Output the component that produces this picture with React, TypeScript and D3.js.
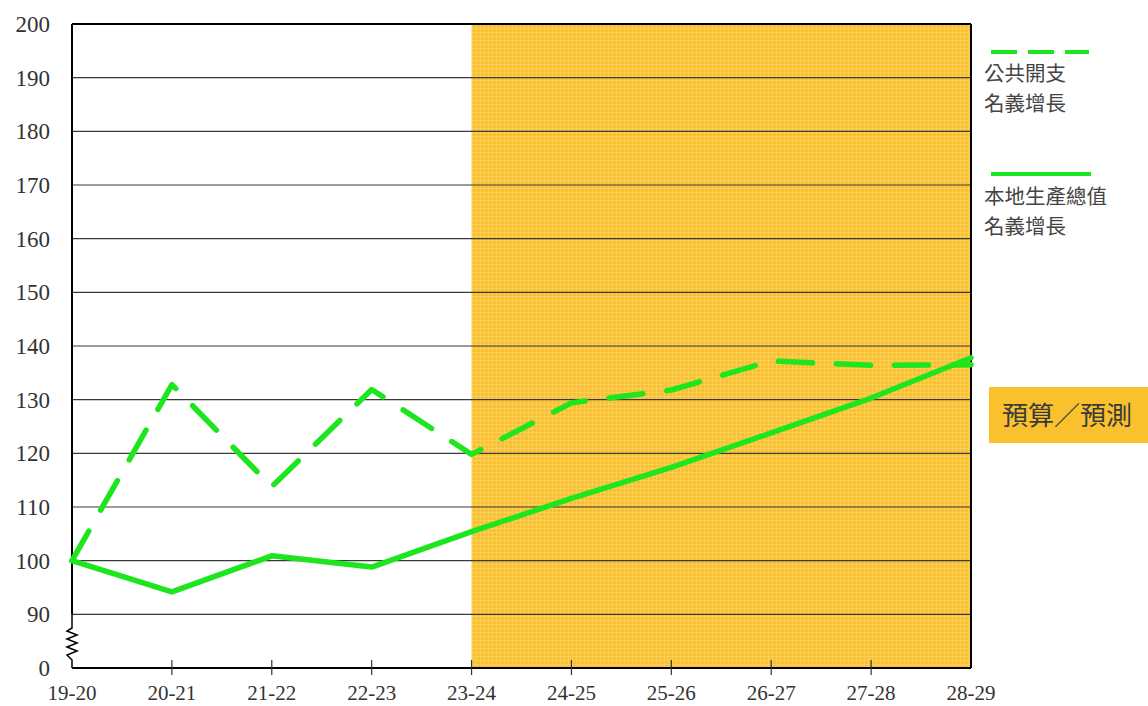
import React from 'react';
import * as d3 from 'd3';

const categories = ['19-20', '20-21', '21-22', '22-23', '23-24', '24-25', '25-26', '26-27', '27-28', '28-29'];
const spendingGrowth = [100, 132.8, 113.8, 131.9, 119.8, 129.4, 131.8, 137.2, 136.4, 136.5];
const gdpGrowth = [100, 94.2, 100.9, 98.8, 105.4, 111.6, 117.4, 123.8, 130.3, 137.8];
const yTicks = [90, 100, 110, 120, 130, 140, 150, 160, 170, 180, 190, 200];
const forecastStart = '23-24';
const forecastEnd = '28-29';

const GREEN = '#1ee61e';
const SERIF = '"Liberation Serif", "DejaVu Serif", serif';
const CJK = '"Noto Sans CJK TC", "Noto Sans CJK SC", sans-serif';

const App: React.FC = () => {
    const width = 1148;
    const height = 706;
    const left = 72;
    const right = 971;
    const top = 24;
    const bottom = 668;

    const x = d3.scalePoint<string>().domain(categories).range([left, right]);
    // axis is broken below 90: baseline "0" sits where 80 would be
    const y = d3.scaleLinear().domain([80, 200]).range([bottom, top]);

    const line = d3.line<number>()
        .x((_, i) => x(categories[i]) as number)
        .y(d => y(d));

    const fx0 = x(forecastStart) as number;
    const fx1 = x(forecastEnd) as number;

    // zigzag break mark on the y axis
    const zz: [number, number][] = [[left, y(90)], [left, 628]];
    for (let i = 0; i < 7; i++) {
        zz.push([i % 2 === 0 ? left - 5 : left + 5, 631 + i * 4]);
    }
    zz.push([left, 660], [left, bottom]);

    return (
        <svg width={width} height={height} style={{ position: 'absolute', left: 0, top: 0, background: '#fff' }}>
            <defs>
                <pattern id="dots" width={4} height={4} patternUnits="userSpaceOnUse">
                    <rect width={4} height={4} fill="#f9c02b" />
                    <rect x={0} y={0} width={4} height={1} fill="#fbcf5e" />
                    <rect x={0} y={0} width={1} height={4} fill="#fbcf5e" />
                </pattern>
            </defs>

            <rect x={fx0} y={top} width={fx1 - fx0} height={bottom - top} fill="url(#dots)" />

            {yTicks.filter(t => t < 200).map(t => (
                <line key={t} x1={left} x2={right} y1={y(t)} y2={y(t)} stroke="#3a3a3a" strokeWidth={1.2} />
            ))}

            {/* frame */}
            <line x1={left} x2={right} y1={top} y2={top} stroke="#000" strokeWidth={2} />
            <line x1={right} x2={right} y1={top} y2={bottom} stroke="#000" strokeWidth={2} />
            <line x1={left} x2={right} y1={bottom} y2={bottom} stroke="#000" strokeWidth={2} />
            <line x1={left} x2={left} y1={top} y2={y(90)} stroke="#000" strokeWidth={2} />
            <path d={d3.line()(zz) as string} fill="none" stroke="#000" strokeWidth={1.5} />

            {categories.slice(1, -1).map(c => (
                <line key={c} x1={x(c)} x2={x(c)} y1={bottom - 8} y2={bottom + 7} stroke="#333" strokeWidth={1.2} />
            ))}

            {yTicks.map(t => (
                <text key={t} x={50} y={y(t) + 8} textAnchor="end" fontFamily={SERIF} fontSize={23} fill="#333">{t}</text>
            ))}
            <text x={50} y={bottom + 8} textAnchor="end" fontFamily={SERIF} fontSize={23} fill="#333">0</text>

            {categories.map(c => (
                <text key={c} x={x(c)} y={700} textAnchor="middle" fontFamily={SERIF} fontSize={21} fill="#333">{c}</text>
            ))}

            <path d={line(gdpGrowth) as string} fill="none" stroke={GREEN} strokeWidth={5.5} strokeLinejoin="round" strokeLinecap="round" />
            <path d={line(spendingGrowth) as string} fill="none" stroke={GREEN} strokeWidth={5.5} strokeDasharray="34 24" strokeLinejoin="round" strokeLinecap="round" />

            {/* legend */}
            <line x1={991} x2={1089} y1={52} y2={52} stroke={GREEN} strokeWidth={4} strokeDasharray="26 11" strokeLinecap="butt" />
            <text x={984} y={81} fontFamily={CJK} fontSize={20.5} fill="#444">公共開支</text>
            <text x={984} y={111} fontFamily={CJK} fontSize={20.5} fill="#444">名義增長</text>
            <line x1={991} x2={1091} y1={174} y2={174} stroke={GREEN} strokeWidth={4} />
            <text x={984} y={204} fontFamily={CJK} fontSize={20.5} fill="#444">本地生產總值</text>
            <text x={984} y={234} fontFamily={CJK} fontSize={20.5} fill="#444">名義增長</text>

            <rect x={989} y={387} width={159} height={56} fill="#f9c12e" />
            <text x={1002} y={425} fontFamily={CJK} fontSize={26} fill="#3a3a3a">預算／預測</text>
        </svg>
    );
};

export default App;
